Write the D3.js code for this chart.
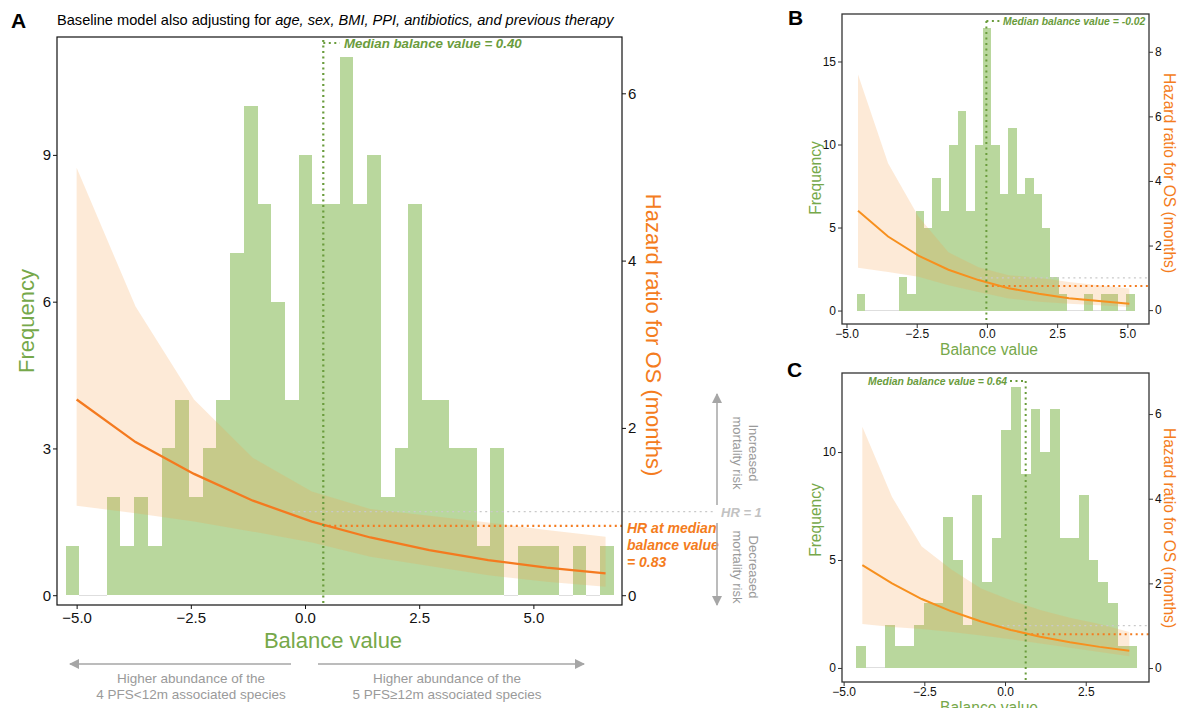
<!DOCTYPE html>
<html lang="en">
<head>
<meta charset="utf-8">
<title>Balance value and hazard ratio for OS</title>
<script src="https://d3js.org/d3.v7.min.js"></script>
<style>
  body { margin: 0; background: #fff; }
  text { font-family: "Liberation Sans", Arial, Helvetica, sans-serif; }
</style>
</head>
<body>
<div id="chart"></div>
<script>

// ---- values ----
const binWidth = 0.3;

// panel A histogram (bins start at binStartA, width 0.3)
const binStartA = -5.24;
const countsA = [1,0,0,2,1,2,1,3,4,2,3,4,7,10,8,6,4,9,8,8,11,8,9,2,3,8,4,4,3,3,1,3,0,1,1,1,0,1,0,1];
// panel A hazard ratio curve and 95% band
const hrXA  = [-5.00, -3.71, -2.43, -1.14, 0.15, 1.43, 2.72, 4.01, 5.29, 6.58];
const hrA   = [2.34, 1.83, 1.45, 1.13, 0.88, 0.69, 0.54, 0.42, 0.33, 0.26];
const hrLoA = [1.07, 0.98, 0.88, 0.76, 0.63, 0.46, 0.35, 0.24, 0.16, 0.10];
const hrHiA = [5.11, 3.45, 2.34, 1.64, 1.24, 1.03, 0.95, 0.87, 0.78, 0.70];
const medianA = 0.40, hrMedianA = 0.83;

// panel B
const binStartB = -4.64;
const countsB = [1,0,0,0,0,2,1,6,5,8,6,10,12,6,10,17,10,7,11,7,8,7,5,2,1,0,0,1,0,1,1,0,1];
const hrXB  = [-4.59, -3.52, -2.44, -1.37, -0.30, 0.77, 1.85, 2.92, 3.99, 5.07];
const hrB   = [3.08, 2.28, 1.69, 1.25, 0.93, 0.68, 0.51, 0.37, 0.28, 0.20];
const hrLoB = [1.31, 1.18, 1.03, 0.77, 0.56, 0.36, 0.26, 0.20, 0.15, 0.10];
const hrHiB = [7.30, 4.55, 2.90, 1.79, 1.33, 1.08, 1.00, 0.87, 0.77, 0.67];
const medianB = -0.02, hrMedianB = 0.75;

// panel C
const binStartC = -4.61;
const countsC = [1,0,0,2,1,1,2,3,3,7,5,2,8,4,6,11,13,9,12,10,12,6,6,8,5,4,3,1,1];
const hrXC  = [-4.42, -3.50, -2.58, -1.66, -0.74, 0.18, 1.09, 2.01, 2.93, 3.85];
const hrC   = [2.43, 2.00, 1.63, 1.34, 1.10, 0.90, 0.74, 0.61, 0.50, 0.41];
const hrLoC = [1.04, 0.97, 0.92, 0.85, 0.77, 0.68, 0.58, 0.48, 0.38, 0.28];
const hrHiC = [5.70, 4.04, 2.87, 2.33, 1.88, 1.60, 1.37, 1.19, 1.04, 0.85];
const medianC = 0.64, hrMedianC = 0.80;

// ticks
const xTicksAB = [-5, -2.5, 0, 2.5, 5];
const xTicksC  = [-5, -2.5, 0, 2.5];
const yTicksA = [0, 3, 6, 9],   hrTicksA = [0, 2, 4, 6];
const yTicksB = [0, 5, 10, 15], hrTicksB = [0, 2, 4, 6, 8];
const yTicksC = [0, 5, 10],     hrTicksC = [0, 2, 4, 6];

// colours
const green = "#b9d79d", greenText = "#76a84a", greenDark = "#6a9c3c";
const orange = "#f47c20", bandCol = "#f5a04a", grey = "#a6a6a6";

const svg = d3.select("#chart").append("svg")
  .attr("width", 1184).attr("height", 708);

function drawPanel(p) {
  const g = svg.append("g");
  const x = d3.scaleLinear().domain(p.xDomain).range([p.left, p.right]);
  const y = d3.scaleLinear().domain(p.yDomain).range([p.bottom, p.top]);
  const yHR = d3.scaleLinear().domain(p.hrDomain).range([p.bottom, p.top]);

  // histogram
  const bins = p.counts.map((n, i) => ({x0: p.binStart + i * binWidth, x1: p.binStart + (i + 1) * binWidth, n: n}));
  g.append("g").attr("shape-rendering", "crispEdges")
    .selectAll("rect").data(bins).join("rect")
      .attr("x", d => x(d.x0))
      .attr("width", d => x(d.x1) - x(d.x0))
      .attr("y", d => d.n > 0 ? y(d.n) : y(0) - 0.5)
      .attr("height", d => d.n > 0 ? y(0) - y(d.n) : 1)
      .attr("fill", d => d.n > 0 ? green : "#dedede");

  // hazard ratio band
  const pts = p.hrX.map((v, i) => ({x: v, hr: p.hr[i], lo: p.lo[i], hi: p.hi[i]}));
  g.append("path").datum(pts)
    .attr("d", d3.area().x(d => x(d.x)).y0(d => yHR(d.lo)).y1(d => yHR(d.hi)))
    .attr("fill", bandCol).attr("fill-opacity", 0.22);

  // HR = 1 reference
  g.append("line")
    .attr("x1", x(p.refStart)).attr("x2", p.refEnd)
    .attr("y1", yHR(1)).attr("y2", yHR(1))
    .attr("stroke", "#c9c9c9").attr("stroke-width", 1.3).attr("stroke-dasharray", "2 3.5");

  // HR at median
  g.append("line")
    .attr("x1", x(p.median)).attr("x2", p.hrMedEnd)
    .attr("y1", yHR(p.hrMedian)).attr("y2", yHR(p.hrMedian))
    .attr("stroke", orange).attr("stroke-width", p.dotW).attr("stroke-dasharray", "2 3.5");

  // curve
  g.append("path").datum(pts)
    .attr("d", d3.line().x(d => x(d.x)).y(d => yHR(d.hr)))
    .attr("fill", "none").attr("stroke", p.lineCol).attr("stroke-width", p.lineW);

  // median vertical line
  g.append("line")
    .attr("x1", x(p.median)).attr("x2", x(p.median))
    .attr("y1", p.medTop).attr("y2", p.bottom)
    .attr("stroke", greenDark).attr("stroke-width", p.dotW).attr("stroke-dasharray", "2 3.5");

  // frame
  g.append("rect")
    .attr("x", p.left).attr("y", p.top)
    .attr("width", p.right - p.left).attr("height", p.bottom - p.top)
    .attr("fill", "none").attr("stroke", p.frameCol).attr("stroke-width", p.frameW);

  const styleAxis = sel => {
    sel.select(".domain").remove();
    sel.selectAll(".tick line").attr("stroke", p.frameCol);
    sel.selectAll(".tick text").attr("fill", "#111")
      .style("font-size", p.tickFont + "px")
      .style("font-family", "'Liberation Sans', Arial, sans-serif");
  };
  g.append("g").attr("transform", `translate(0,${p.bottom})`)
    .call(d3.axisBottom(x).tickValues(p.xTicks).tickFormat(d3.format(".1f")).tickSize(4).tickPadding(p.xPad))
    .call(styleAxis);
  g.append("g").attr("transform", `translate(${p.left},0)`)
    .call(d3.axisLeft(y).tickValues(p.yTicks).tickFormat(d3.format("d")).tickSize(4).tickPadding(2))
    .call(styleAxis);
  g.append("g").attr("transform", `translate(${p.right},0)`)
    .call(d3.axisRight(yHR).tickValues(p.hrTicks).tickFormat(d3.format("d")).tickSize(4).tickPadding(2))
    .call(styleAxis);

  // axis titles
  g.append("text").attr("x", p.xTitle[0]).attr("y", p.xTitle[1])
    .attr("text-anchor", "middle").attr("fill", greenText)
    .style("font-size", p.titleFont + "px").text("Balance value");
  g.append("text")
    .attr("transform", `translate(${p.yTitle[0]},${p.yTitle[1]}) rotate(-90)`)
    .attr("text-anchor", "middle").attr("fill", greenText)
    .style("font-size", p.titleFont + "px").text("Frequency");
  g.append("text")
    .attr("transform", `translate(${p.hrTitle[0]},${p.hrTitle[1]}) rotate(90)`)
    .attr("text-anchor", "middle").attr("fill", orange)
    .style("font-size", p.titleFont + "px").text("Hazard ratio for OS (months)");

  // panel letter
  g.append("text").attr("x", p.letter[0]).attr("y", p.letter[1])
    .style("font-size", "21px").style("font-weight", "bold").text(p.letter[2]);

  return {g, x, y, yHR};
}

// ---- panel A ----
const A = drawPanel({
  left: 57, right: 622, top: 37, bottom: 605,
  xDomain: [-5.43, 6.94], yDomain: [-0.2, 11.41], hrDomain: [-0.117, 6.673],
  binStart: binStartA, counts: countsA,
  hrX: hrXA, hr: hrA, lo: hrLoA, hi: hrHiA,
  median: medianA, hrMedian: hrMedianA,
  refStart: -0.27, refEnd: 716, hrMedEnd: 622,
  medTop: 40, lineCol: "#f47a1f", lineW: 2.3, dotW: 2.2,
  frameCol: "#111", frameW: 1.2,
  xTicks: xTicksAB, yTicks: yTicksA, hrTicks: hrTicksA, tickFont: 15, xPad: 3,
  titleFont: 22, xTitle: [333, 648], yTitle: [34, 321], hrTitle: [646, 335],
  letter: [11, 28, "A"]
});

const title = A.g.append("text").attr("x", 57).attr("y", 25).style("font-size", "14.6px");
title.append("tspan").text("Baseline model also adjusting for ");
title.append("tspan").style("font-style", "italic").text("age, sex, BMI, PPI, antibiotics, and previous therapy");

// median label A
A.g.append("line").attr("x1", A.x(medianA)).attr("x2", 340).attr("y1", 43).attr("y2", 43)
  .attr("stroke", greenDark).attr("stroke-width", 2.2).attr("stroke-dasharray", "2 3.5");
A.g.append("text").attr("x", 344).attr("y", 48).attr("fill", greenDark)
  .style("font-size", "13.3px").style("font-weight", "bold").style("font-style", "italic")
  .text("Median balance value = 0.40");

// HR labels
A.g.append("text").attr("x", 721).attr("y", 517).attr("fill", "#c2c2c2")
  .style("font-size", "13px").style("font-weight", "bold").style("font-style", "italic").text("HR = 1");
const hrLab = A.g.append("text").attr("fill", orange)
  .style("font-size", "14px").style("font-weight", "bold").style("font-style", "italic");
["HR at median", "balance value", "= 0.83"].forEach((t, i) =>
  hrLab.append("tspan").attr("x", 627).attr("y", 533 + i * 17).text(t));

// arrows
svg.append("defs").append("marker").attr("id", "head").attr("viewBox", "0 0 10 10")
  .attr("refX", 9).attr("refY", 5).attr("markerWidth", 10).attr("markerHeight", 10)
  .attr("markerUnits", "userSpaceOnUse").attr("orient", "auto")
  .append("path").attr("d", "M0,0 L10,5 L0,10 Z").attr("fill", grey);

function arrow(x1, y1, x2, y2) {
  A.g.append("line").attr("x1", x1).attr("y1", y1).attr("x2", x2).attr("y2", y2)
    .attr("stroke", grey).attr("stroke-width", 1.5).attr("marker-end", "url(#head)");
}
arrow(717, 505, 717, 394);
arrow(717, 523, 717, 605);
arrow(291, 664, 70, 664);
arrow(318, 664, 584, 664);

function rotText(xx, yy, lines) {
  const t = A.g.append("text").attr("transform", `translate(${xx},${yy}) rotate(90)`)
    .attr("text-anchor", "middle").attr("fill", "#9a9a9a").style("font-size", "13px");
  lines.forEach((s, i) => t.append("tspan").attr("x", 0).attr("y", i * 16).text(s));
}
rotText(749, 453, ["Increased", "mortality risk"]);
rotText(749, 567, ["Decreased", "mortality risk"]);

function botText(cx, lines) {
  const t = A.g.append("text").attr("text-anchor", "middle").attr("fill", "#9a9a9a").style("font-size", "13.5px");
  lines.forEach((s, i) => t.append("tspan").attr("x", cx).attr("y", 683 + i * 16).text(s));
}
botText(191, ["Higher abundance of the", "4 PFS<12m associated species"]);
botText(447, ["Higher abundance of the", "5 PFS\u226512m associated species"]);

// ---- panel B ----
const B = drawPanel({
  left: 842, right: 1149, top: 14, bottom: 324,
  xDomain: [-5.16, 5.77], yDomain: [-0.81, 17.86], hrDomain: [-0.43, 9.17],
  binStart: binStartB, counts: countsB,
  hrX: hrXB, hr: hrB, lo: hrLoB, hi: hrHiB,
  median: medianB, hrMedian: hrMedianB,
  refStart: -0.25, refEnd: 1149, hrMedEnd: 1149,
  medTop: 21, lineCol: "#f7901e", lineW: 2, dotW: 2,
  frameCol: "#333", frameW: 1.3,
  xTicks: xTicksAB, yTicks: yTicksB, hrTicks: hrTicksB, tickFont: 12, xPad: 1,
  titleFont: 15.6, xTitle: [989, 355], yTitle: [821, 178], hrTitle: [1164, 173],
  letter: [788, 25, "B"]
});
B.g.append("line").attr("x1", B.x(medianB)).attr("x2", 1000).attr("y1", 21).attr("y2", 21)
  .attr("stroke", greenDark).attr("stroke-width", 2).attr("stroke-dasharray", "2 3.5");
B.g.append("text").attr("x", 1003).attr("y", 25).attr("fill", greenDark)
  .style("font-size", "10.4px").style("font-weight", "bold").style("font-style", "italic")
  .text("Median balance value = -0.02");

// ---- panel C ----
const C = drawPanel({
  left: 842, right: 1149, top: 373, bottom: 682,
  xDomain: [-5.05, 4.46], yDomain: [-0.65, 13.66], hrDomain: [-0.33, 6.97],
  binStart: binStartC, counts: countsC,
  hrX: hrXC, hr: hrC, lo: hrLoC, hi: hrHiC,
  median: medianC, hrMedian: hrMedianC,
  refStart: -0.1, refEnd: 1149, hrMedEnd: 1149,
  medTop: 381, lineCol: "#f7901e", lineW: 2, dotW: 2,
  frameCol: "#333", frameW: 1.3,
  xTicks: xTicksC, yTicks: yTicksC, hrTicks: hrTicksC, tickFont: 12, xPad: 1,
  titleFont: 15.6, xTitle: [989, 713], yTitle: [821, 520], hrTitle: [1164, 528],
  letter: [787, 377, "C"]
});
C.g.append("line").attr("x1", 1010).attr("x2", C.x(medianC)).attr("y1", 381).attr("y2", 381)
  .attr("stroke", greenDark).attr("stroke-width", 2).attr("stroke-dasharray", "2 3.5");
C.g.append("text").attr("x", 1007).attr("y", 385).attr("text-anchor", "end").attr("fill", greenDark)
  .style("font-size", "10.4px").style("font-weight", "bold").style("font-style", "italic")
  .text("Median balance value = 0.64");

</script>
</body>
</html>
